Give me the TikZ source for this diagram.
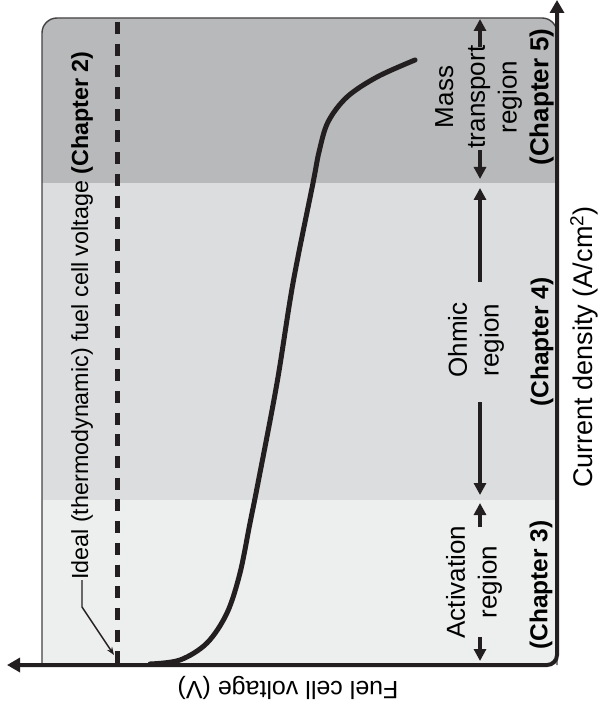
\documentclass[tikz,border=0pt]{standalone}
\usepackage{fontspec}
\setmainfont{Liberation Sans}
\usetikzlibrary{arrows.meta}
\definecolor{massc}{HTML}{B8B9BA}
\definecolor{ohmc}{HTML}{DCDDDE}
\definecolor{actc}{HTML}{EDEFEE}
\definecolor{ink}{HTML}{231F20}
\tikzset{
  axisline/.style={draw=ink, line width=4pt, {Triangle[length=13pt,width=14pt]}-{Triangle[length=13pt,width=14pt]}},
  regarr/.style={draw=ink, line width=3.5pt, -{Triangle[length=12pt,width=12pt]}},
  boxline/.style={draw=ink!85, line width=1.4pt},
  curveline/.style={draw=ink, line width=5pt, line cap=round},
  idealline/.style={draw=ink, line width=5pt, dash pattern=on 12pt off 9.7pt},
  leaderline/.style={draw=ink, line width=1.4pt, -{Stealth[length=8pt,width=6pt]}},
  regtext/.style={rotate=90, align=center, inner sep=0pt, font=\fontsize{26}{31.7}\selectfont},
  chaptext/.style={rotate=90, inner sep=0pt, font=\fontsize{24.5}{30}\selectfont\bfseries},
}
\begin{document}
\begin{tikzpicture}[x=1pt,y=-1pt]
\useasboundingbox (0,0) rectangle (600,719);
% region fills
\fill[actc, rounded corners=15pt] (42,18) rectangle (557,665);
\fill[actc] (42,630) rectangle (80,665);
\fill[massc, rounded corners=15pt] (42,18) rectangle (557,260);
\fill[ohmc] (42,183) rectangle (557,500);
% box outline
\draw[boxline, rounded corners=15pt] (42,665) -- (42,18) -- (557,18) -- (557,665);
% ideal voltage line
\coordinate (dtop) at (117,22);
\coordinate (dbot) at (117,665);
\draw[idealline] (dtop) -- (dbot);
% polarization curve
\draw[curveline] plot[smooth, tension=0.55] coordinates {
 (150,664) (180,660) (207,643) (227,613) (240,573) (250,523) (258,483)
 (277,383) (293,283) (313,183) (319,152) (328,122) (347,97) (377,77) (415,60)};
% axes
\coordinate (htip) at (7,665);
\coordinate (orig) at (557,665);
\coordinate (vtip) at (557,0);
\draw[axisline, rounded corners=10pt] (htip) -- (orig) -- (vtip);
% region labels
\node[regtext] (mass) at (494.5,97) {Mass\\transport\\region\\\textbf{(Chapter 5)}};
\node[regtext] (ohm) at (476,340) {Ohmic\\region};
\node[chaptext] (ch4) at (542,342) {(Chapter 4)};
\node[regtext] (act) at (474,582) {Activation\\region};
\node[chaptext] (ch3) at (541,585) {(Chapter 3)};
% region arrows
\coordinate (m1) at (480,47);  \coordinate (m1t) at (480,19);
\coordinate (m2) at (480,150); \coordinate (m2t) at (480,179);
\coordinate (o1) at (480,282); \coordinate (o1t) at (480,188);
\coordinate (o2) at (480,402); \coordinate (o2t) at (480,495);
\coordinate (a1) at (480,527); \coordinate (a1t) at (480,503);
\coordinate (a2) at (480,637); \coordinate (a2t) at (480,661);
\draw[regarr] (m1) -- (m1t);
\draw[regarr] (m2) -- (m2t);
\draw[regarr] (o1) -- (o1t);
\draw[regarr] (o2) -- (o2t);
\draw[regarr] (a1) -- (a1t);
\draw[regarr] (a2) -- (a2t);
% ideal label with leader
\node[rotate=90, anchor=west, inner sep=0pt, font=\fontsize{23.3}{28}\selectfont] (ideal) at (82,580)
  {Ideal (thermodynamic) fuel cell voltage \textbf{(Chapter 2)}};
\coordinate (lk) at (82,607);
\coordinate (lt) at (114,655);
\draw[leaderline] (ideal.west) -- (lk) -- (lt);
% axis labels
\node[rotate=90, inner sep=0pt, font=\fontsize{27}{32}\selectfont] (ylab) at (584,347) {Current density (A/cm\textsuperscript{2})};
\node[rotate=180, inner sep=0pt, font=\fontsize{25}{30}\selectfont] (xlab) at (288,688) {Fuel cell voltage (V)};
\end{tikzpicture}
\end{document}
